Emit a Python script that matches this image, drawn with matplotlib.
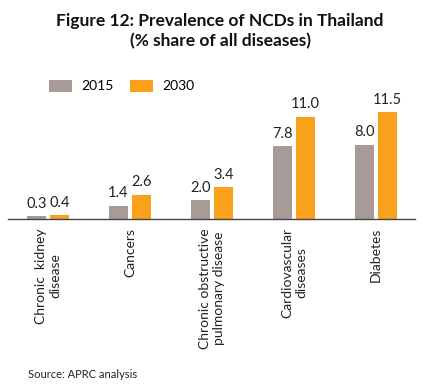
import matplotlib
matplotlib.use("Agg")
import matplotlib.pyplot as plt
import numpy as np

categories = ["Chronic  kidney\ndisease", "Cancers", "Chronic obstructive\npulmonary disease",
              "Cardiovascular\ndiseases", "Diabetes"]
series_names = ["2015", "2030"]
values_2015 = [0.3, 1.4, 2.0, 7.8, 8.0]
values_2030 = [0.4, 2.6, 3.4, 11.0, 11.5]
title = "Figure 12: Prevalence of NCDs in Thailand\n(% share of all diseases)"
source = "Source: APRC analysis"

c2015 = "#A89A96"
c2030 = "#F9A11B"
plt.rcParams['font.family'] = ['Lato', 'DejaVu Sans']

W, H = 432, 391
fig = plt.figure(figsize=(W/100, H/100), dpi=100)
ax = fig.add_axes([8/W, 1-219/H, (415-8)/W, (219-100)/H])

x = np.arange(len(categories))
w = 0.23
off = 0.143
b1 = ax.bar(x - off, values_2015, w, color=c2015, label=series_names[0])
b2 = ax.bar(x + off, values_2030, w, color=c2030, label=series_names[1])
for bars, vals in ((b1, values_2015), (b2, values_2030)):
    for b, v in zip(bars, vals):
        ax.annotate(f"{v:.1f}", (b.get_x() + b.get_width()/2, v), xytext=(0, 4),
                    textcoords="offset points", ha="center", va="bottom", fontsize=10.5, color="#222222")

ax.set_xlim(-0.488, 4.476)
ax.set_ylim(0, 12.8)
for s in ["top", "right", "left"]:
    ax.spines[s].set_visible(False)
ax.spines["bottom"].set_color("#444444")
ax.spines["bottom"].set_linewidth(1.0)
ax.set_yticks([])
ax.set_xticks(x)
ax.set_xticklabels([])
ax.tick_params(axis="x", length=0)

label_y = -(228 - 219) / (219 - 100)
for xi, lab in zip(x, categories):
    ax.text(xi, label_y, lab, transform=ax.get_xaxis_transform(), rotation=90,
            ha="center", va="top", multialignment="center", fontsize=10, color="#222222")

fig.text(220/W, 1-31/H, title, ha="center", va="center", fontsize=12.5,
         fontweight="bold", linespacing=1.25, color="#111111")

leg = fig.legend(handles=[b1, b2], labels=series_names, loc="center left",
                 bbox_to_anchor=(49/W, 1-86/H), ncol=2, frameon=False, fontsize=10,
                 handlelength=1.65, handleheight=0.95, columnspacing=1.15, handletextpad=0.7,
                 borderpad=0, borderaxespad=0)

fig.text(28/W, 1-374/H, source, ha="left", va="center", fontsize=8, color="#222222")

fig.savefig("out.png", dpi=100)
